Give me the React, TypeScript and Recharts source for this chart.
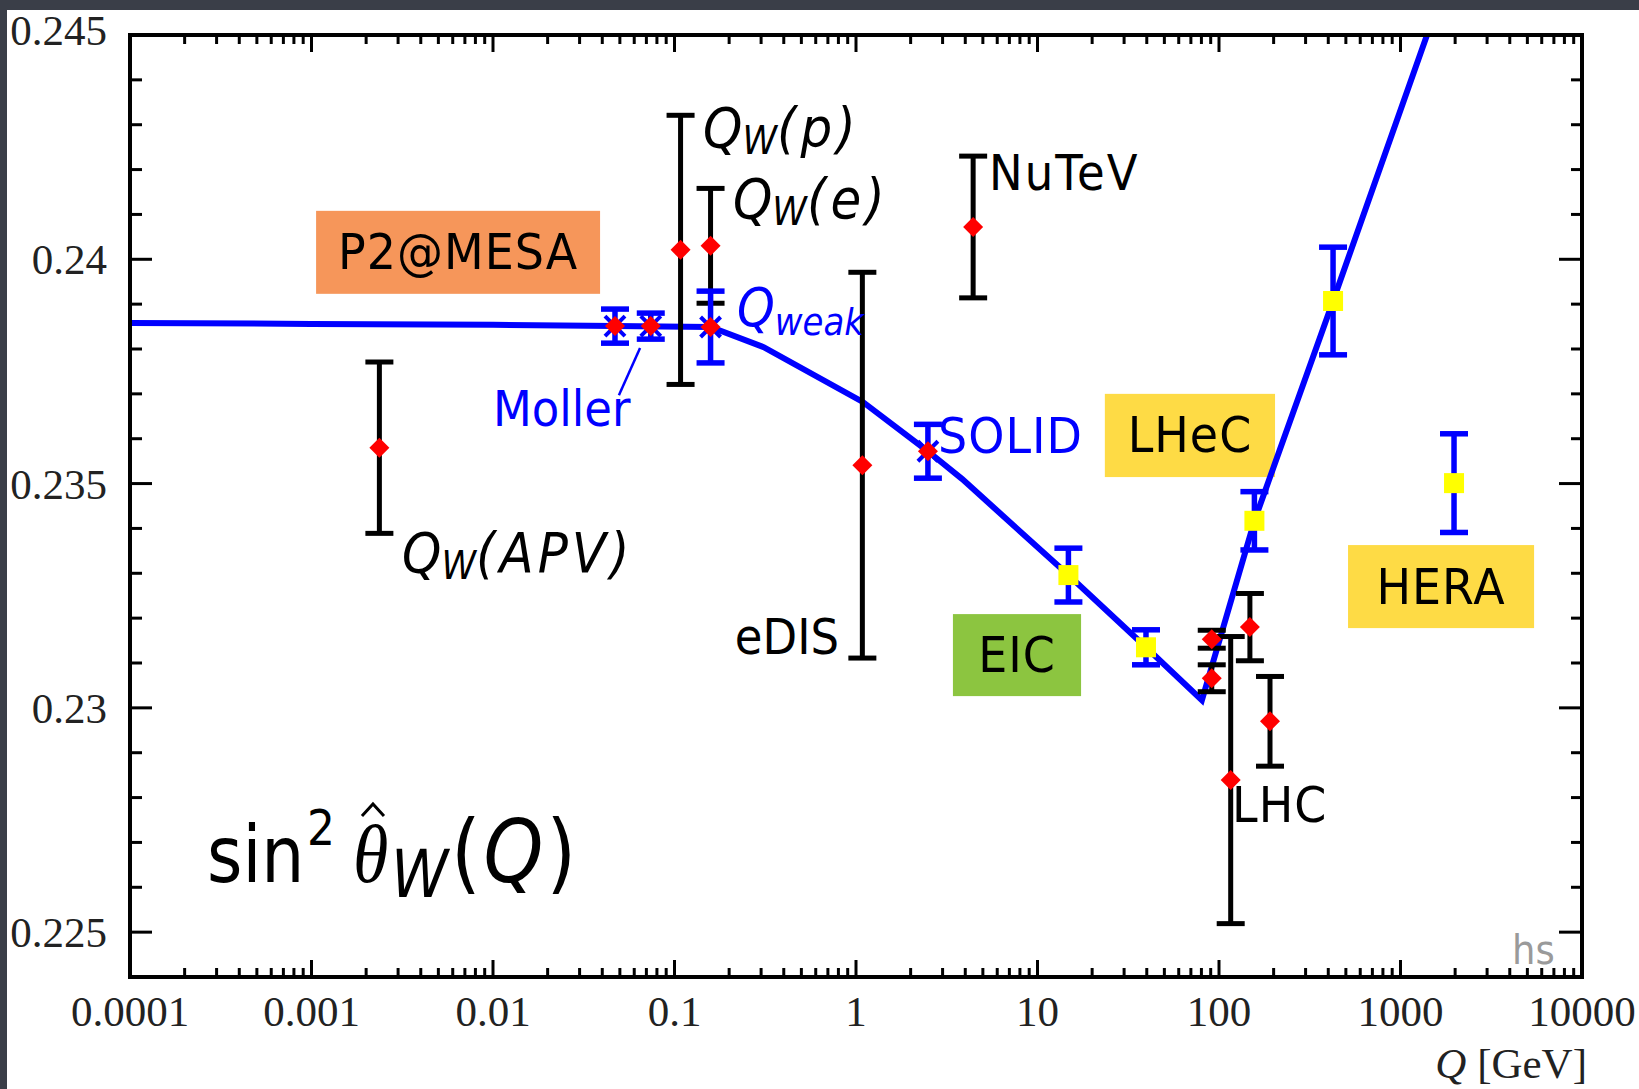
import React from 'react';
import {
  ComposedChart,
  XAxis,
  YAxis,
  Line,
  Scatter,
  ErrorBar,
  ReferenceArea,
  ReferenceDot,
  ReferenceLine,
} from 'recharts';

const W = 1639;
const H = 1089;
const SANS = '"DejaVu Sans", Verdana, sans-serif';
const SERIF = '"Liberation Serif", "Times New Roman", serif';
const BLUE = '#0000ff';
const RED = '#ff0000';

// SM running of sin^2 theta_W (blue curve)
const curveQ = [0.0001, 0.001, 0.01, 0.047, 0.158, 0.31, 1.09, 2.49, 3.85, 14.8, 39.6, 80.5, 156.7, 425, 1400];
const curveS = [0.23858, 0.23856, 0.23854, 0.23851, 0.23849, 0.23804, 0.23682, 0.23572, 0.2351, 0.23296, 0.23135, 0.23017, 0.23417, 0.23907, 0.245];

// measurements (black bars, red diamonds)
const measNames = ['QW(APV)', 'QW(p)', 'QW(e)', 'eDIS', 'NuTeV', 'LHC', 'LHC', 'LHC', 'LHC', 'LHC'];
const measQ = [0.002366, 0.108, 0.158, 1.084, 4.42, 91.2, 91.2, 116, 148, 191];
const measS = [0.2358, 0.24021, 0.2403, 0.23541, 0.24072, 0.23153, 0.23066, 0.22839, 0.2318, 0.2297];
const measErr = [0.00191, 0.003, 0.00128, 0.0043, 0.00158, 0.0002, 0.0003, 0.0032, 0.00075, 0.001];

// low energy projections (blue bars, red diamonds)
const lowNames = ['Moller', 'Moller', 'Qweak', 'SOLID'];
const lowQ = [0.047, 0.074, 0.158, 2.49];
const lowS = [0.23851, 0.23851, 0.23849, 0.23572];
const lowErr = [0.00038, 0.00029, 0.0008, 0.0006];

// collider projections (blue bars, yellow squares)
const colNames = ['EIC', 'EIC', 'LHeC', 'LHeC', 'HERA'];
const colQ = [14.8, 39.6, 156.7, 425, 1972];
const colS = [0.23296, 0.23135, 0.23417, 0.23907, 0.23501];
const colErr = [0.0006, 0.00039, 0.00065, 0.0012, 0.0011];

// axis ticks
const xMajor = [0.0001, 0.001, 0.01, 0.1, 1, 10, 100, 1000, 10000];
const xMajorLabels = ['0.0001', '0.001', '0.01', '0.1', '1', '10', '100', '1000', '10000'];
const yMajor = [0.225, 0.23, 0.235, 0.24, 0.245];
const yMajorLabels = ['0.225', '0.23', '0.235', '0.24', '0.245'];

const xTicks: number[] = [...xMajor];
for (let d = -4; d < 4; d++) {
  for (let m = 2; m <= 9; m++) xTicks.push(m * Math.pow(10, d));
}
xTicks.sort((a, b) => a - b);
const yTicks: number[] = [];
for (let i = 225; i <= 245; i++) yTicks.push(i / 1000);

const curve = curveQ.map((q, i) => ({ q, s: curveS[i] }));
const meas = measQ.map((q, i) => ({ name: measNames[i], q, s: measS[i], err: measErr[i] }));
const low = lowQ.map((q, i) => ({ name: lowNames[i], q, s: lowS[i], err: lowErr[i] }));
const col = colQ.map((q, i) => ({ name: colNames[i], q, s: colS[i], err: colErr[i] }));

const xIdx = (v: number) => xMajor.findIndex((m) => Math.abs(Math.log10(m) - Math.log10(v)) < 1e-6);
const yIdx = (v: number) => yMajor.findIndex((m) => Math.abs(m - v) < 1e-9);

const BottomTick = (p: any) => {
  const i = xIdx(p.payload.value);
  return (
    <g>
      <line x1={p.x} x2={p.x} y1={p.y} y2={p.y - (i >= 0 ? 17 : 9)} stroke="#000" strokeWidth={3} />
      {i >= 0 && (
        <text x={p.x} y={p.y + 49} textAnchor="middle" fontFamily={SERIF} fontSize={43} fill="#222">
          {xMajorLabels[i]}
        </text>
      )}
    </g>
  );
};

const TopTick = (p: any) => {
  const i = xIdx(p.payload.value);
  return <line x1={p.x} x2={p.x} y1={p.y} y2={p.y + (i >= 0 ? 17 : 9)} stroke="#000" strokeWidth={3} />;
};

const LeftTick = (p: any) => {
  const i = yIdx(p.payload.value);
  const top = i === yMajor.length - 1;
  return (
    <g>
      <line x1={p.x} x2={p.x + (i >= 0 ? 22 : 12)} y1={p.y} y2={p.y} stroke="#000" strokeWidth={3} />
      {i >= 0 && (
        <text x={p.x - 23} y={p.y + (top ? 10 : 15)} textAnchor="end" fontFamily={SERIF} fontSize={43} fill="#222">
          {yMajorLabels[i]}
        </text>
      )}
    </g>
  );
};

const RightTick = (p: any) => {
  const i = yIdx(p.payload.value);
  return <line x1={p.x} x2={p.x - (i >= 0 ? 23 : 11)} y1={p.y} y2={p.y} stroke="#000" strokeWidth={3} />;
};

const Diamond = (p: any) => (
  <polygon
    points={`${p.cx},${p.cy - 10} ${p.cx + 10},${p.cy} ${p.cx},${p.cy + 10} ${p.cx - 10},${p.cy}`}
    fill={RED}
  />
);

const CrossDiamond = (p: any) => (
  <g>
    <line x1={p.cx - 10} y1={p.cy - 10} x2={p.cx + 10} y2={p.cy + 10} stroke={BLUE} strokeWidth={4} />
    <line x1={p.cx - 10} y1={p.cy + 10} x2={p.cx + 10} y2={p.cy - 10} stroke={BLUE} strokeWidth={4} />
    <Diamond cx={p.cx} cy={p.cy} />
  </g>
);

const Square = (p: any) => <rect x={p.cx - 10} y={p.cy - 10} width={20} height={20} fill="#ffff00" />;

const Txt = ({ x, y, size, fill = '#000', anchor = 'start', family = SANS, sy = 1.1, children, ...rest }: any) => (
  <text
    transform={`translate(${x},${y}) scale(1,${sy})`}
    fontSize={size}
    fill={fill}
    textAnchor={anchor}
    fontFamily={family}
    {...rest}
  >
    {children}
  </text>
);

const QW = ({ x, y, arg, spacing = 3 }: any) => (
  <Txt x={x} y={y} size={50} fontStyle="italic">
    Q
    <tspan fontSize={35} dy={6}>W</tspan>
    <tspan dy={-6} letterSpacing={spacing}>{arg}</tspan>
  </Txt>
);

const note = (key: string, q: number, s: number, render: (x: number, y: number) => React.ReactNode) => (
  <ReferenceDot
    key={key}
    x={q}
    y={s}
    r={0}
    ifOverflow="visible"
    shape={(p: any) => <g>{render(p.cx, p.cy)}</g>}
  />
);

// coloured boxes (annotation layout, data coordinates)
const boxes = [
  { text: 'P2@MESA', x1: 0.00106, x2: 0.0389, y1: 0.23923, y2: 0.24108, fill: '#f6965a' },
  { text: 'LHeC', x1: 23.5, x2: 203.6, y1: 0.235145, y2: 0.237, fill: '#fedb45' },
  { text: 'HERA', x1: 514, x2: 5445, y1: 0.231778, y2: 0.233629, fill: '#fedb45' },
  { text: 'EIC', x1: 3.42, x2: 17.38, y1: 0.230262, y2: 0.23209, fill: '#8cc540' },
];

export default function App() {
  const axisLine = { stroke: '#000', strokeWidth: 4, strokeLinecap: 'square' as const };
  return (
    <div style={{ position: 'absolute', left: 0, top: 0, width: W, height: H, background: '#3a3e48', overflow: 'hidden' }}>
      <div style={{ position: 'absolute', left: 7, top: 10, right: 0, bottom: 0, background: '#fff' }} />
      <div style={{ position: 'absolute', left: 0, top: 0 }}>
        <ComposedChart width={W} height={H} margin={{ top: 34, right: 56, bottom: 0, left: 0 }}>
          <XAxis
            dataKey="q"
            type="number"
            scale="log"
            domain={[0.0001, 10000]}
            allowDataOverflow
            ticks={xTicks}
            interval={0}
            tickSize={0}
            tickMargin={0}
            tickLine={false}
            axisLine={axisLine}
            height={112}
            tick={(p: any) => <BottomTick {...p} />}
          />
          <XAxis
            xAxisId="top"
            orientation="top"
            dataKey="q"
            type="number"
            scale="log"
            domain={[0.0001, 10000]}
            allowDataOverflow
            ticks={xTicks}
            interval={0}
            tickSize={0}
            tickMargin={0}
            tickLine={false}
            axisLine={axisLine}
            height={1}
            tick={(p: any) => <TopTick {...p} />}
          />
          <YAxis
            dataKey="s"
            type="number"
            domain={[0.224, 0.245]}
            allowDataOverflow
            ticks={yTicks}
            interval={0}
            tickSize={0}
            tickMargin={0}
            tickLine={false}
            axisLine={axisLine}
            width={130}
            tick={(p: any) => <LeftTick {...p} />}
          />
          <YAxis
            yAxisId="right"
            orientation="right"
            dataKey="s"
            type="number"
            domain={[0.224, 0.245]}
            allowDataOverflow
            ticks={yTicks}
            interval={0}
            tickSize={0}
            tickMargin={0}
            tickLine={false}
            axisLine={axisLine}
            width={1}
            tick={(p: any) => <RightTick {...p} />}
          />

          {boxes.map((b) => (
            <ReferenceArea
              key={b.text}
              x1={b.x1}
              x2={b.x2}
              y1={b.y1}
              y2={b.y2}
              shape={(p: any) => (
                <g>
                  <rect x={p.x} y={p.y} width={p.width} height={p.height} fill={b.fill} />
                  <Txt x={p.x + p.width / 2} y={p.y + p.height / 2 + 17} size={46} anchor="middle" letterSpacing={1}>
                    {b.text}
                  </Txt>
                </g>
              )}
            />
          ))}

          <Line
            data={curve}
            dataKey="s"
            type="linear"
            stroke={BLUE}
            strokeWidth={6}
            dot={false}
            activeDot={false}
            isAnimationActive={false}
          />

          <Scatter data={meas} dataKey="s" shape={Diamond} isAnimationActive={false}>
            <ErrorBar dataKey="err" direction="y" width={14} strokeWidth={5} stroke="#000" isAnimationActive={false} />
          </Scatter>
          <Scatter data={low} dataKey="s" shape={CrossDiamond} isAnimationActive={false}>
            <ErrorBar dataKey="err" direction="y" width={14} strokeWidth={5.5} stroke={BLUE} isAnimationActive={false} />
          </Scatter>
          <Scatter data={col} dataKey="s" shape={Square} isAnimationActive={false}>
            <ErrorBar dataKey="err" direction="y" width={14} strokeWidth={5.5} stroke={BLUE} isAnimationActive={false} />
          </Scatter>

          <ReferenceLine
            segment={[
              { x: 0.0646, y: 0.23802 },
              { x: 0.0494, y: 0.23697 },
            ]}
            stroke={BLUE}
            strokeWidth={2.5}
            ifOverflow="visible"
          />

          {note('qwp', 0.1436, 0.2425, (x, y) => <QW x={x} y={y} arg="(p)" spacing={4} />)}
          {note('qwe', 0.21, 0.24092, (x, y) => <QW x={x} y={y} arg="(e)" spacing={4} />)}
          {note('apv', 0.003154, 0.23303, (x, y) => <QW x={x} y={y} arg="(APV)" spacing={4} />)}
          {note('qweak', 0.221, 0.23851, (x, y) => (
            <Txt x={x} y={y} size={48} fill={BLUE} fontStyle="italic">
              Q<tspan fontSize={34} dy={8}>weak</tspan>
            </Txt>
          ))}
          {note('moller', 0.01, 0.23628, (x, y) => <Txt x={x} y={y} size={45} fill={BLUE}>Moller</Txt>)}
          {note('solid', 2.83, 0.23568, (x, y) => <Txt x={x} y={y} size={46} fill={BLUE} letterSpacing={1}>SOLID</Txt>)}
          {note('nutev', 5.41, 0.24154, (x, y) => <Txt x={x} y={y} size={45} letterSpacing={2}>NuTeV</Txt>)}
          {note('edis', 0.215, 0.2312, (x, y) => <Txt x={x} y={y} size={45}>eDIS</Txt>)}
          {note('lhc', 118, 0.22745, (x, y) => <Txt x={x} y={y} size={46} letterSpacing={1}>LHC</Txt>)}
          {note('hs', 4113, 0.2243, (x, y) => <Txt x={x} y={y} size={37} fill="#9a9a9a">hs</Txt>)}
          {note('sin', 0.0002655, 0.22612, (x, y) => (
            <g>
              <Txt x={x} y={y} size={68} sy={1.15}>
                <tspan x={0} y={0}>sin</tspan>
                <tspan x={100} y={-32} fontSize={44}>2</tspan>
                <tspan x={146} y={0} fontFamily={SERIF} fontStyle="italic" fontSize={72}>θ</tspan>
                <tspan x={184} y={13} fontStyle="italic" fontSize={58}>W</tspan>
                <tspan x={244} y={0} fontSize={76}>(</tspan>
                <tspan fontStyle="italic" fontSize={76} dx={3}>Q</tspan>
                <tspan fontSize={76} dx={3}>)</tspan>
              </Txt>
              <polyline
                points={`${x + 155},${y - 66} ${x + 166},${y - 78} ${x + 177},${y - 66}`}
                fill="none"
                stroke="#000"
                strokeWidth={3}
              />
            </g>
          ))}
          {note('xtitle', 10000, 0.224, (x, y) => (
            <text x={x + 5} y={y + 101} textAnchor="end" fontFamily={SERIF} fontSize={43} fill="#222">
              <tspan fontStyle="italic">Q</tspan> [GeV]
            </text>
          ))}
        </ComposedChart>
      </div>
    </div>
  );
}
